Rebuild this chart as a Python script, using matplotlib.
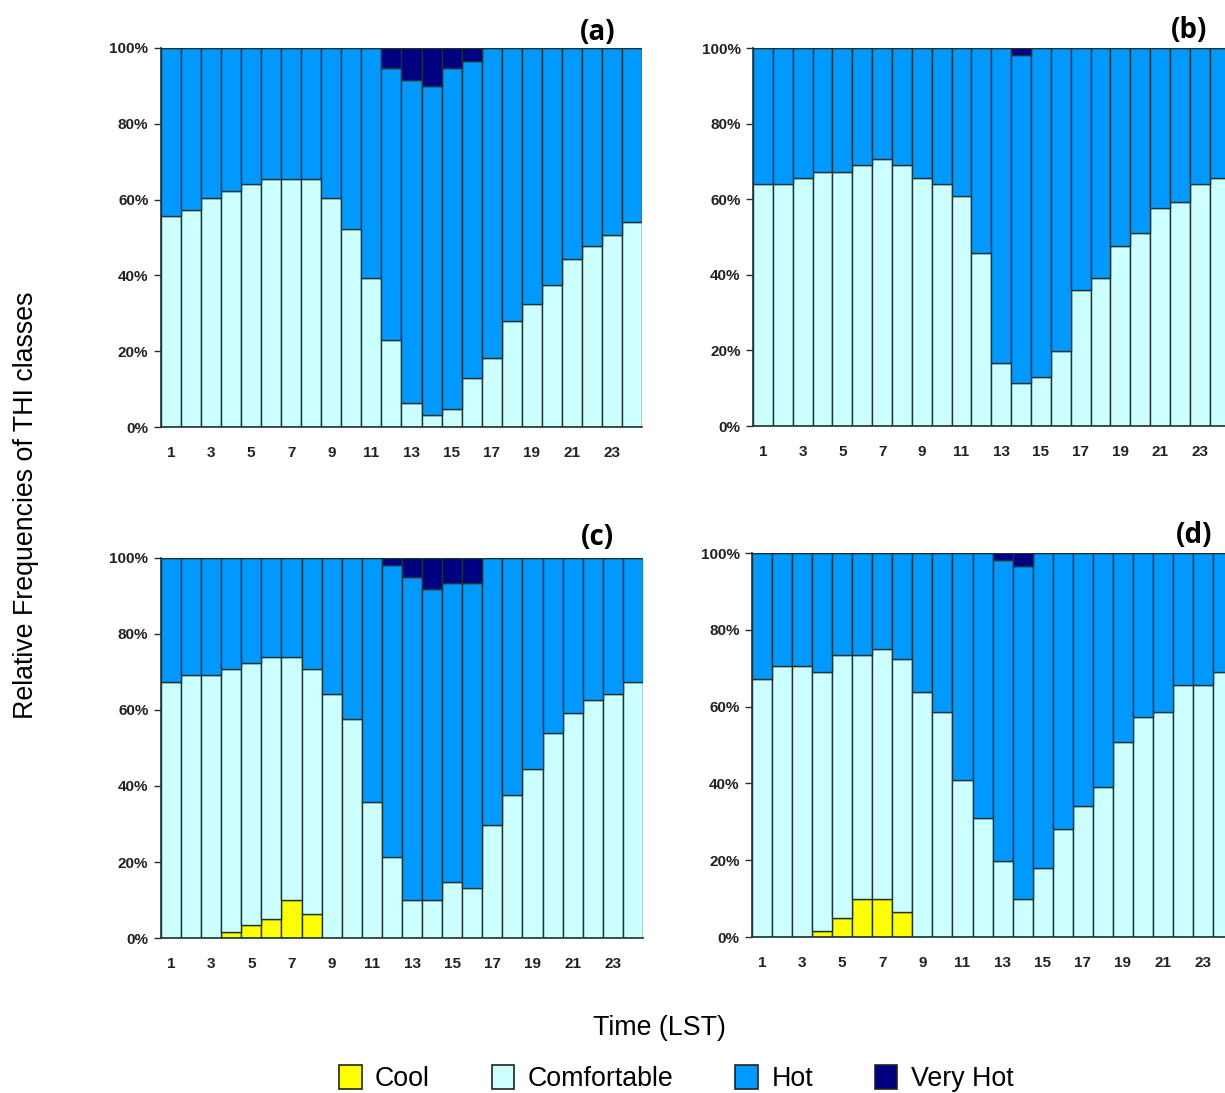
import matplotlib
matplotlib.use("Agg")
import matplotlib.pyplot as plt
from matplotlib.patches import Patch

plt.rcParams['font.family'] = ['Liberation Sans', 'DejaVu Sans']

hours = list(range(1, 25))
class_names = ["Cool", "Comfortable", "Hot", "Very Hot"]
class_colors = ["#ffff00", "#ccffff", "#0099ff", "#000080"]

# relative frequencies (%), hour 1..24
cool_a = [0]*24
comf_a = [55.8, 57.2, 60.5, 62.2, 64.1, 65.4, 65.4, 65.4, 60.5, 52.3, 39.4, 23.0,
          6.4, 3.3, 4.8, 13.0, 18.1, 28.1, 32.5, 37.6, 44.2, 47.7, 50.7, 54.0]
vhot_a = [0, 0, 0, 0, 0, 0, 0, 0, 0, 0, 0, 5.3, 8.4, 10.1, 5.3, 3.5, 0, 0, 0, 0, 0, 0, 0, 0]
hot_a = [44.2, 42.8, 39.5, 37.8, 35.9, 34.6, 34.6, 34.6, 39.5, 47.7, 60.6, 71.7,
         85.2, 86.6, 89.9, 83.5, 81.9, 71.9, 67.5, 62.4, 55.8, 52.3, 49.3, 46.0]

cool_b = [0]*24
comf_b = [64.1, 64.1, 65.5, 67.2, 67.2, 69.1, 70.6, 69.1, 65.5, 64.1, 60.8, 45.8,
          16.6, 11.3, 13.1, 19.9, 36.1, 39.3, 47.6, 51.0, 57.6, 59.2, 64.1, 65.6]
vhot_b = [0, 0, 0, 0, 0, 0, 0, 0, 0, 0, 0, 0, 0, 1.8, 0, 0, 0, 0, 0, 0, 0, 0, 0, 0]
hot_b = [35.9, 35.9, 34.5, 32.8, 32.8, 30.9, 29.4, 30.9, 34.5, 35.9, 39.2, 54.2,
         83.4, 86.9, 86.9, 80.1, 63.9, 60.7, 52.4, 49.0, 42.4, 40.8, 35.9, 34.4]

cool_c = [0, 0, 0, 1.5, 3.3, 5.0, 9.9, 6.3, 0, 0, 0, 0, 0, 0, 0, 0, 0, 0, 0, 0, 0, 0, 0, 0]
comf_c = [67.4, 69.1, 69.1, 69.2, 69.1, 68.9, 64.0, 64.4, 64.2, 57.5, 35.9, 21.3,
          9.9, 9.9, 14.8, 13.1, 29.7, 37.6, 44.4, 54.0, 59.2, 62.5, 64.2, 67.4]
vhot_c = [0, 0, 0, 0, 0, 0, 0, 0, 0, 0, 0, 1.8, 4.9, 8.2, 6.6, 6.6, 0, 0, 0, 0, 0, 0, 0, 0]
hot_c = [32.6, 30.9, 30.9, 29.3, 27.6, 26.1, 26.1, 29.3, 35.8, 42.5, 64.1, 76.9,
         85.2, 81.9, 78.6, 80.3, 70.3, 62.4, 55.6, 46.0, 40.8, 37.5, 35.8, 32.6]

cool_d = [0, 0, 0, 1.6, 4.9, 9.9, 9.9, 6.6, 0, 0, 0, 0, 0, 0, 0, 0, 0, 0, 0, 0, 0, 0, 0, 0]
comf_d = [67.2, 70.6, 70.6, 67.4, 68.5, 63.5, 65.2, 65.7, 63.8, 58.7, 40.9, 31.1,
          19.7, 9.8, 18.0, 28.1, 34.2, 39.2, 50.8, 57.4, 58.7, 65.6, 65.6, 68.9]
vhot_d = [0, 0, 0, 0, 0, 0, 0, 0, 0, 0, 0, 0, 1.7, 3.5, 0, 0, 0, 0, 0, 0, 0, 0, 0, 0]
hot_d = [32.8, 29.4, 29.4, 31.0, 26.6, 26.6, 24.9, 27.7, 36.2, 41.3, 59.1, 68.9,
         78.6, 86.7, 82.0, 71.9, 65.8, 60.8, 49.2, 42.6, 41.3, 34.4, 34.4, 31.1]

panels = [
    ("(a)", [cool_a, comf_a, hot_a, vhot_a]),
    ("(b)", [cool_b, comf_b, hot_b, vhot_b]),
    ("(c)", [cool_c, comf_c, hot_c, vhot_c]),
    ("(d)", [cool_d, comf_d, hot_d, vhot_d]),
]

# axes boxes in figure fraction (left, bottom, width, height)
boxes = [
    (0.1314, 0.6093, 0.3927, 0.3468),
    (0.6147, 0.6102, 0.3890, 0.3458),
    (0.1314, 0.1418, 0.3935, 0.3477),
    (0.6139, 0.1427, 0.3927, 0.3513),
]
title_pos = [(0.488, 0.970), (0.971, 0.972), (0.488, 0.508), (0.975, 0.510)]

edge = "#1e3333"

fig = plt.figure(figsize=(12.25, 10.93), dpi=100)

for (label, series), box, tp in zip(panels, boxes, title_pos):
    ax = fig.add_axes(box)
    bottom = [0]*24
    for vals, col in zip(series, class_colors):
        ax.bar(hours, vals, width=1.0, bottom=bottom, color=col,
               edgecolor=edge, linewidth=1.0)
        bottom = [b + v for b, v in zip(bottom, vals)]
    ax.set_xlim(0.5, 24.5)
    ax.set_ylim(0, 100)
    ax.set_yticks([0, 20, 40, 60, 80, 100])
    ax.set_yticklabels(["0%", "20%", "40%", "60%", "80%", "100%"])
    ax.set_xticks(hours[::2])
    ax.set_xticklabels([str(h) for h in hours[::2]])
    ax.tick_params(axis='y', length=5, width=1, color=edge, pad=4,
                   labelsize=11)
    ax.tick_params(axis='x', length=0, pad=14, labelsize=11)
    for t in ax.get_xticklabels() + ax.get_yticklabels():
        t.set_fontweight('bold')
        t.set_color('#222222')
    for s in ['top', 'right']:
        ax.spines[s].set_visible(False)
    for s in ['left', 'bottom']:
        ax.spines[s].set_color(edge)
        ax.spines[s].set_linewidth(1.2)
    fig.text(tp[0], tp[1], label, ha='center', va='center',
             fontsize=20, fontweight='bold', family=['Open Sans', 'DejaVu Sans'])

fig.text(0.021, 0.538, "Relative Frequencies of THI classes", rotation=90,
         ha='center', va='center', fontsize=19.3)
fig.text(0.538, 0.0595, "Time (LST)", ha='center', va='center', fontsize=19.3)

handles = [Patch(facecolor=c, edgecolor='#222222', linewidth=1.2) for c in class_colors]
fig.legend(handles, class_names, loc='center', bbox_to_anchor=(0.552, 0.013),
           ncol=4, frameon=False, fontsize=19.3, handlelength=0.85, handleheight=0.95,
           handletextpad=0.5, columnspacing=2.3, borderpad=0.1)

fig.savefig("out.png", dpi=100)
